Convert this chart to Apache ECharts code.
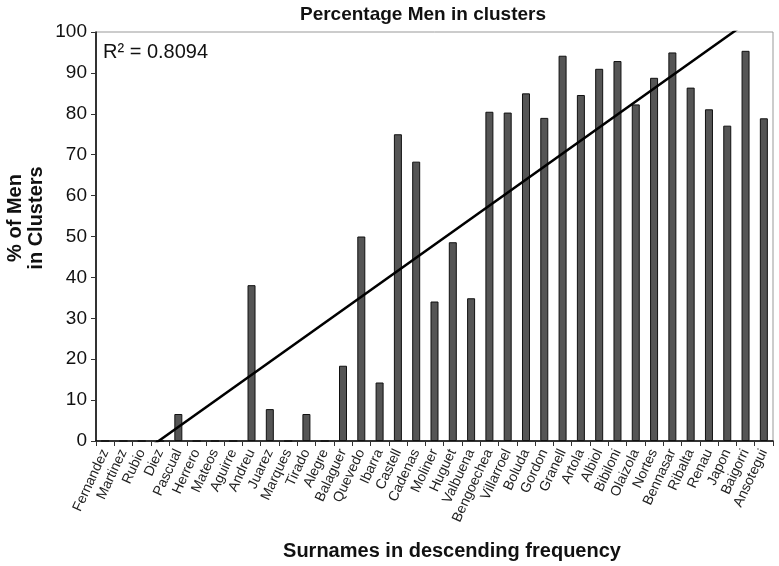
<!DOCTYPE html>
<html><head><meta charset="utf-8">
<script src="https://cdn.jsdelivr.net/npm/echarts@6/dist/echarts.min.js"></script>
<style>html,body{margin:0;padding:0;background:#fff}#c{width:779px;height:566px}</style>
</head><body><div id="c"></div>
<script>
const surnames = ["Fernandez","Martinez","Rubio","Diez","Pascual","Herrero","Mateos","Aguirre","Andreu","Juarez","Marques","Tirado","Alegre","Balaguer","Quevedo","Ibarra","Castell","Cadenas","Moliner","Huguet","Valbuena","Bengoechea","Villarroel","Boluda","Gordon","Granell","Artola","Albiol","Bibiloni","Olaizola","Nortes","Bennasar","Ribalta","Renau","Japon","Baigorri","Ansotegui"];
const menPct = [0,0,0,0,6.6,0,0,0,38.1,7.8,0,6.6,0,18.4,50,14.3,75,68.3,34.1,48.6,34.9,80.5,80.3,85,79,94.2,84.6,91,92.9,82.3,88.8,95,86.4,81.1,77.1,95.4,78.9];
const trendEnds = [-9.3, 105.3];
const yTicks = [0,10,20,30,40,50,60,70,80,90,100];
const r2Label = "R² = 0.8094";
const FONT = 'Liberation Sans, Arial, sans-serif';

const chart = echarts.init(document.getElementById('c'));
chart.setOption({
  animation: false,
  backgroundColor: '#fff',
  title: {text: 'Percentage Men in clusters', left: 418, top: 0, textAlign: 'center',
    textStyle: {fontFamily: FONT, fontWeight: 'bold', fontSize: 19, color: '#111'}},
  grid: {left: 96, right: 6, top: 32, bottom: 125, show: true, borderColor: '#999', borderWidth: 1,
    containLabel: false, outerBoundsMode: 'none'},
  graphic: [
    {type: 'text', left: 103, top: 42, style: {text: r2Label, fontFamily: FONT, fontSize: 20, fill: '#111'}},
    {type: 'text', x: 452, y: 551, style: {text: 'Surnames in descending frequency', fontFamily: FONT, fontWeight: 'bold', fontSize: 20, fill: '#111', align: 'center', verticalAlign: 'middle'}},
    {type: 'text', x: 26, y: 218, rotation: Math.PI / 2, style: {text: '% of Men\nin Clusters', fontFamily: FONT, fontWeight: 'bold', fontSize: 20, lineHeight: 21, fill: '#111', align: 'center', verticalAlign: 'middle'}}
  ],
  xAxis: {
    type: 'category', data: surnames,
    axisLine: {lineStyle: {color: '#000', width: 1.5}},
    axisTick: {show: true, alignWithLabel: false, length: 5, lineStyle: {color: '#333'}},
    axisLabel: {rotate: 65, interval: 0, fontFamily: FONT, fontSize: 14, color: '#222', margin: 9}
  },
  yAxis: {
    type: 'value', min: 0, max: 100, interval: 10,
    axisLine: {show: true, lineStyle: {color: '#000', width: 1.5}},
    axisTick: {show: true, length: 5, lineStyle: {color: '#333'}},
    axisLabel: {fontFamily: FONT, fontSize: 19, color: '#111', margin: 9,
      formatter: v => yTicks.includes(v) ? String(v) : ''},
    splitLine: {show: false}
  },
  series: [
    {type: 'bar', data: menPct, barWidth: 8,
      itemStyle: {color: '#555', borderColor: '#111', borderWidth: 1}},
    {type: 'line', data: [[0, trendEnds[0]], [surnames.length - 1, trendEnds[1]]],
      clip: true, symbol: 'none', lineStyle: {color: '#000', width: 2.5}}
  ]
});
</script></body></html>
